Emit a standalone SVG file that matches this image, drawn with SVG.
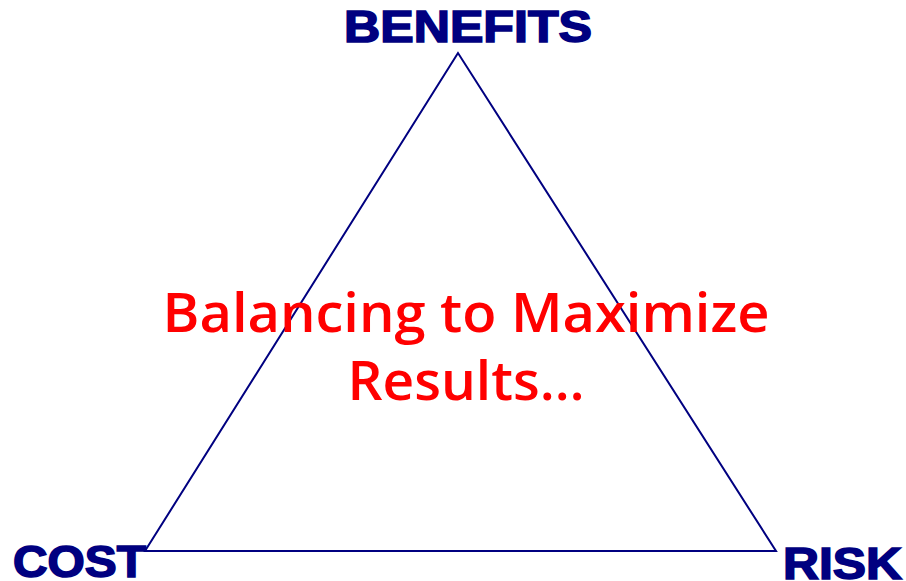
<svg xmlns="http://www.w3.org/2000/svg" width="906" height="581" viewBox="0 0 906 581">
<style>
.lbl{font-family:"Liberation Sans",Arial,sans-serif;font-weight:bold;font-size:44px;fill:#000080;stroke:#000080;stroke-width:1.6px}
.main{font-family:"Open Sans","DejaVu Sans",sans-serif;font-weight:600;font-size:54px;fill:#FF0000;text-anchor:middle}
</style>
<rect width="906" height="581" fill="#ffffff"/>
<g id="connectors">
<polygon points="458,53 145,551 776,551" fill="none" stroke="#000080" stroke-width="2"/>
</g>
<g id="benefits"><text class="lbl" x="344" y="42" textLength="248" lengthAdjust="spacingAndGlyphs">BENEFITS</text></g>
<g id="cost"><text class="lbl" x="13" y="577" textLength="133" lengthAdjust="spacingAndGlyphs">COST</text></g>
<g id="risk"><text class="lbl" x="783" y="579" textLength="119" lengthAdjust="spacingAndGlyphs">RISK</text></g>
<g id="center">
<text class="main" x="466" y="332" textLength="607" lengthAdjust="spacingAndGlyphs">Balancing to Maximize</text>
<text class="main" x="466" y="400" textLength="237" lengthAdjust="spacingAndGlyphs">Results…</text>
</g>
</svg>
